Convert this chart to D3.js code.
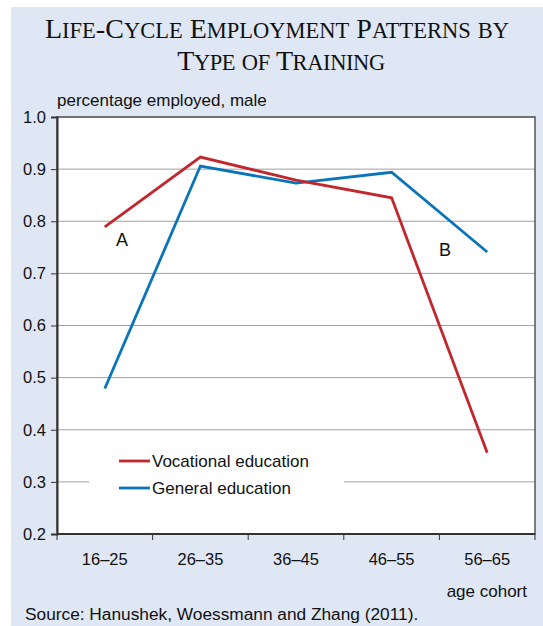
<!DOCTYPE html>
<html>
<head>
<meta charset="utf-8">
<script src="https://cdn.jsdelivr.net/npm/d3@7"></script>
<style>
  body { margin: 0; background: #fff; }
  svg text { font-family: "Liberation Sans", Arial, sans-serif; }
</style>
</head>
<body>
<svg id="chart" width="543" height="626"></svg>
<script>
const cohorts = ["16–25", "26–35", "36–45", "46–55", "56–65"]
const vocational = [0.789, 0.923, 0.879, 0.845, 0.356]
const general = [0.479, 0.906, 0.873, 0.894, 0.741]
const yTicks = [0.2, 0.3, 0.4, 0.5, 0.6, 0.7, 0.8, 0.9, 1.0]

const svg = d3.select("#chart")

// panel background
svg.append("rect")
  .attr("x", 11).attr("y", 7)
  .attr("width", 532).attr("height", 619)
  .attr("fill", "#dfe7f4")

const plotL = 57, plotR = 535, plotT = 117, plotB = 534

const x = d3.scaleBand().domain(cohorts).range([plotL, plotR])
const y = d3.scaleLinear().domain([0.2, 1.0]).range([plotB, plotT])

// plot area
svg.append("rect")
  .attr("x", plotL).attr("y", plotT)
  .attr("width", plotR - plotL).attr("height", plotB - plotT)
  .attr("fill", "#fff")

// gridlines
svg.append("g")
  .selectAll("line")
  .data(yTicks.slice(1))
  .join("line")
  .attr("x1", plotL).attr("x2", plotR)
  .attr("y1", d => y(d)).attr("y2", d => y(d))
  .attr("stroke", "#a0a0a0")
  .attr("stroke-width", 1)

// legend box (covers the 0.3 gridline)
svg.append("rect")
  .attr("x", 89).attr("y", 444)
  .attr("width", 255).attr("height", 62)
  .attr("fill", "#fff")

// border
svg.append("rect")
  .attr("x", plotL).attr("y", plotT)
  .attr("width", plotR - plotL).attr("height", plotB - plotT)
  .attr("fill", "none")
  .attr("stroke", "#555")
  .attr("stroke-width", 1.5)

// y axis
const yAxis = svg.append("g")
  .attr("transform", `translate(${plotL},0)`)
  .call(d3.axisLeft(y).tickValues(yTicks).tickFormat(d3.format(".1f")).tickSize(6))
yAxis.select(".domain").attr("stroke", "#333").attr("stroke-width", 2)
yAxis.selectAll(".tick line").attr("stroke", "#333")
yAxis.selectAll("text").attr("font-size", 16.5).attr("fill", "#111").attr("x", -11)
  .style("font-family", "'Liberation Sans', Arial, sans-serif")

// x axis
const ticksX = cohorts.map(c => x(c)).concat([plotR])
const xAxis = svg.append("g")
xAxis.append("line")
  .attr("x1", plotL).attr("x2", plotR)
  .attr("y1", plotB).attr("y2", plotB)
  .attr("stroke", "#333").attr("stroke-width", 2)
xAxis.selectAll(".tk")
  .data(ticksX)
  .join("line")
  .attr("class", "tk")
  .attr("x1", d => d).attr("x2", d => d)
  .attr("y1", plotB).attr("y2", plotB + 6)
  .attr("stroke", "#333")
xAxis.selectAll(".lbl")
  .data(cohorts)
  .join("text")
  .attr("class", "lbl")
  .attr("x", d => x(d) + x.bandwidth() / 2)
  .attr("y", 565)
  .attr("text-anchor", "middle")
  .attr("font-size", 16.5)
  .attr("fill", "#111")
  .text(d => d)

// lines
const line = d3.line()
  .x((d, i) => x(cohorts[i]) + x.bandwidth() / 2)
  .y(d => y(d))

svg.append("path")
  .datum(general)
  .attr("d", line)
  .attr("fill", "none")
  .attr("stroke", "#0a74bb")
  .attr("stroke-width", 2.8)

svg.append("path")
  .datum(vocational)
  .attr("d", line)
  .attr("fill", "none")
  .attr("stroke", "#c1272d")
  .attr("stroke-width", 2.8)

// annotations
svg.append("text").attr("x", 116).attr("y", 246).attr("font-size", 18).attr("fill", "#111").text("A")
svg.append("text").attr("x", 439).attr("y", 256).attr("font-size", 18).attr("fill", "#111").text("B")

// legend
const legend = [
  { name: "Vocational education", color: "#c1272d", y: 461 },
  { name: "General education", color: "#0a74bb", y: 488 }
]
legend.forEach(l => {
  svg.append("line")
    .attr("x1", 119).attr("x2", 150)
    .attr("y1", l.y).attr("y2", l.y)
    .attr("stroke", l.color).attr("stroke-width", 2.8)
  svg.append("text")
    .attr("x", 152).attr("y", l.y + 6)
    .attr("font-size", 17)
    .attr("fill", "#111")
    .text(l.name)
})

// axis titles
svg.append("text").attr("x", 57).attr("y", 106).attr("font-size", 17).attr("fill", "#111")
  .text("percentage employed, male")
svg.append("text").attr("x", 527).attr("y", 597).attr("font-size", 17).attr("fill", "#111")
  .attr("text-anchor", "end").text("age cohort")
svg.append("text").attr("x", 25).attr("y", 620).attr("font-size", 17.3).attr("fill", "#111")
  .text("Source: Hanushek, Woessmann and Zhang (2011).")

// title in small caps
function smallCaps(sel, str) {
  str.split(" ").forEach((word, wi) => {
    if (wi > 0) sel.append("tspan").attr("font-size", 28).text(" ")
    const parts = word.match(/[A-Z\-]+|[a-z]+/g)
    parts.forEach(p => {
      if (/[a-z]/.test(p)) sel.append("tspan").attr("font-size", 22.5).text(p.toUpperCase())
      else sel.append("tspan").attr("font-size", 28).text(p)
    })
  })
}
const t1 = svg.append("text").attr("x", 277).attr("y", 38).attr("text-anchor", "middle")
  .style("font-family", "'Liberation Serif', 'Times New Roman', serif").attr("fill", "#111")
smallCaps(t1, "Life-Cycle Employment Patterns by")
const t2 = svg.append("text").attr("x", 281).attr("y", 70).attr("text-anchor", "middle")
  .style("font-family", "'Liberation Serif', 'Times New Roman', serif").attr("fill", "#111")
smallCaps(t2, "Type of Training")

// nudge letter spacing so the title lines match the reference widths
;[[t1, 464], [t2, 208]].forEach(([t, w]) => {
  const len = t.node().getComputedTextLength()
  const n = t.text().length
  t.attr("letter-spacing", (w - len) / (n - 1))
})
</script>
</body>
</html>
